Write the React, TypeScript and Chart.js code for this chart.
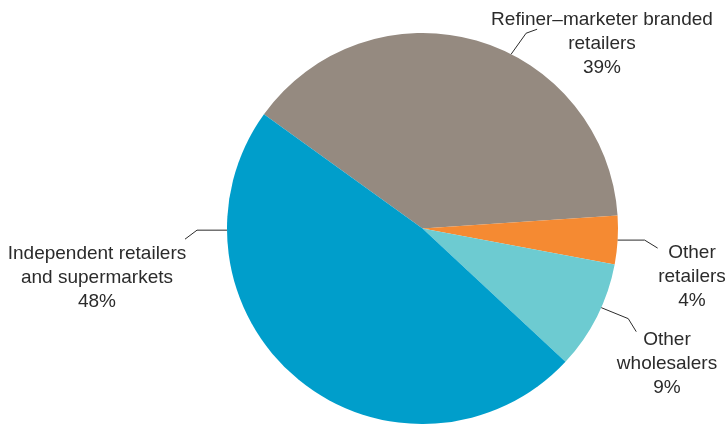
import React, { useEffect, useRef } from "react";
import { Chart, registerables } from "chart.js";

Chart.register(...registerables);

const categories = [
  "Refiner–marketer branded retailers",
  "Other retailers",
  "Other wholesalers",
  "Independent retailers and supermarkets",
];
const shares = [39, 4, 9, 48];
const colors = ["#958a80", "#f58a32", "#6dcbd1", "#009ecb"];

// label text lines per slice (last line is the percentage)
const labelLines = [
  ["Refiner–marketer branded", "retailers"],
  ["Other", "retailers"],
  ["Other", "wholesalers"],
  ["Independent retailers", "and supermarkets"],
];

// leader layout: fraction along slice, two leader segments, text anchor
const leaderLayout = [
  { frac: 0.578, seg1: [15, -21], seg2: [11, -4], text: [602, 25] },
  { frac: 0.5, seg1: [27, 0], seg2: [13, 8], text: [692, 258] },
  { frac: 0.41, seg1: [27, 11], seg2: [8, 13], text: [667, 345] },
  { frac: 0.79, seg1: [-30, 0], seg2: [-12, 9], text: [97, 259] },
];

const labelPlugin = {
  id: "leaderLabels",
  afterDraw(chart: any) {
    const ctx = chart.ctx;
    const meta = chart.getDatasetMeta(0);
    ctx.save();
    meta.data.forEach((arc: any, i: number) => {
      const { x, y, startAngle, endAngle, outerRadius } = arc.getProps(
        ["x", "y", "startAngle", "endAngle", "outerRadius"],
        true
      );
      const L = leaderLayout[i];
      const a = startAngle + L.frac * (endAngle - startAngle);
      const p0x = x + Math.cos(a) * outerRadius;
      const p0y = y + Math.sin(a) * outerRadius;
      const p1x = p0x + L.seg1[0];
      const p1y = p0y + L.seg1[1];
      const p2x = p1x + L.seg2[0];
      const p2y = p1y + L.seg2[1];
      ctx.beginPath();
      ctx.moveTo(p0x, p0y);
      ctx.lineTo(p1x, p1y);
      ctx.lineTo(p2x, p2y);
      ctx.strokeStyle = "#2b2b2b";
      ctx.lineWidth = 1;
      ctx.stroke();

      const lines = [...labelLines[i], shares[i] + "%"];
      ctx.fillStyle = "#2b2b2b";
      ctx.font = '19px "Liberation Sans", Arial, sans-serif';
      ctx.textAlign = "center";
      ctx.textBaseline = "alphabetic";
      lines.forEach((t, k) => {
        ctx.fillText(t, L.text[0], L.text[1] + k * 24);
      });
    });
    ctx.restore();
  },
};

export default function App() {
  const ref = useRef<HTMLCanvasElement>(null);
  useEffect(() => {
    document.body.style.margin = "0";
    const chart = new Chart(ref.current!, {
      type: "pie",
      data: {
        labels: categories,
        datasets: [
          {
            data: shares,
            backgroundColor: colors,
            borderWidth: 0,
          },
        ],
      },
      options: {
        responsive: false,
        animation: false,
        rotation: -54.2,
        layout: { padding: { top: 33, bottom: 0, left: 227, right: 109 } },
        plugins: {
          legend: { display: false },
          tooltip: { enabled: false },
        },
      },
      plugins: [labelPlugin],
    });
    return () => chart.destroy();
  }, []);
  return (
    <div style={{ width: 727, height: 424 }}>
      <canvas ref={ref} width={727} height={424} style={{ display: "block" }} />
    </div>
  );
}
